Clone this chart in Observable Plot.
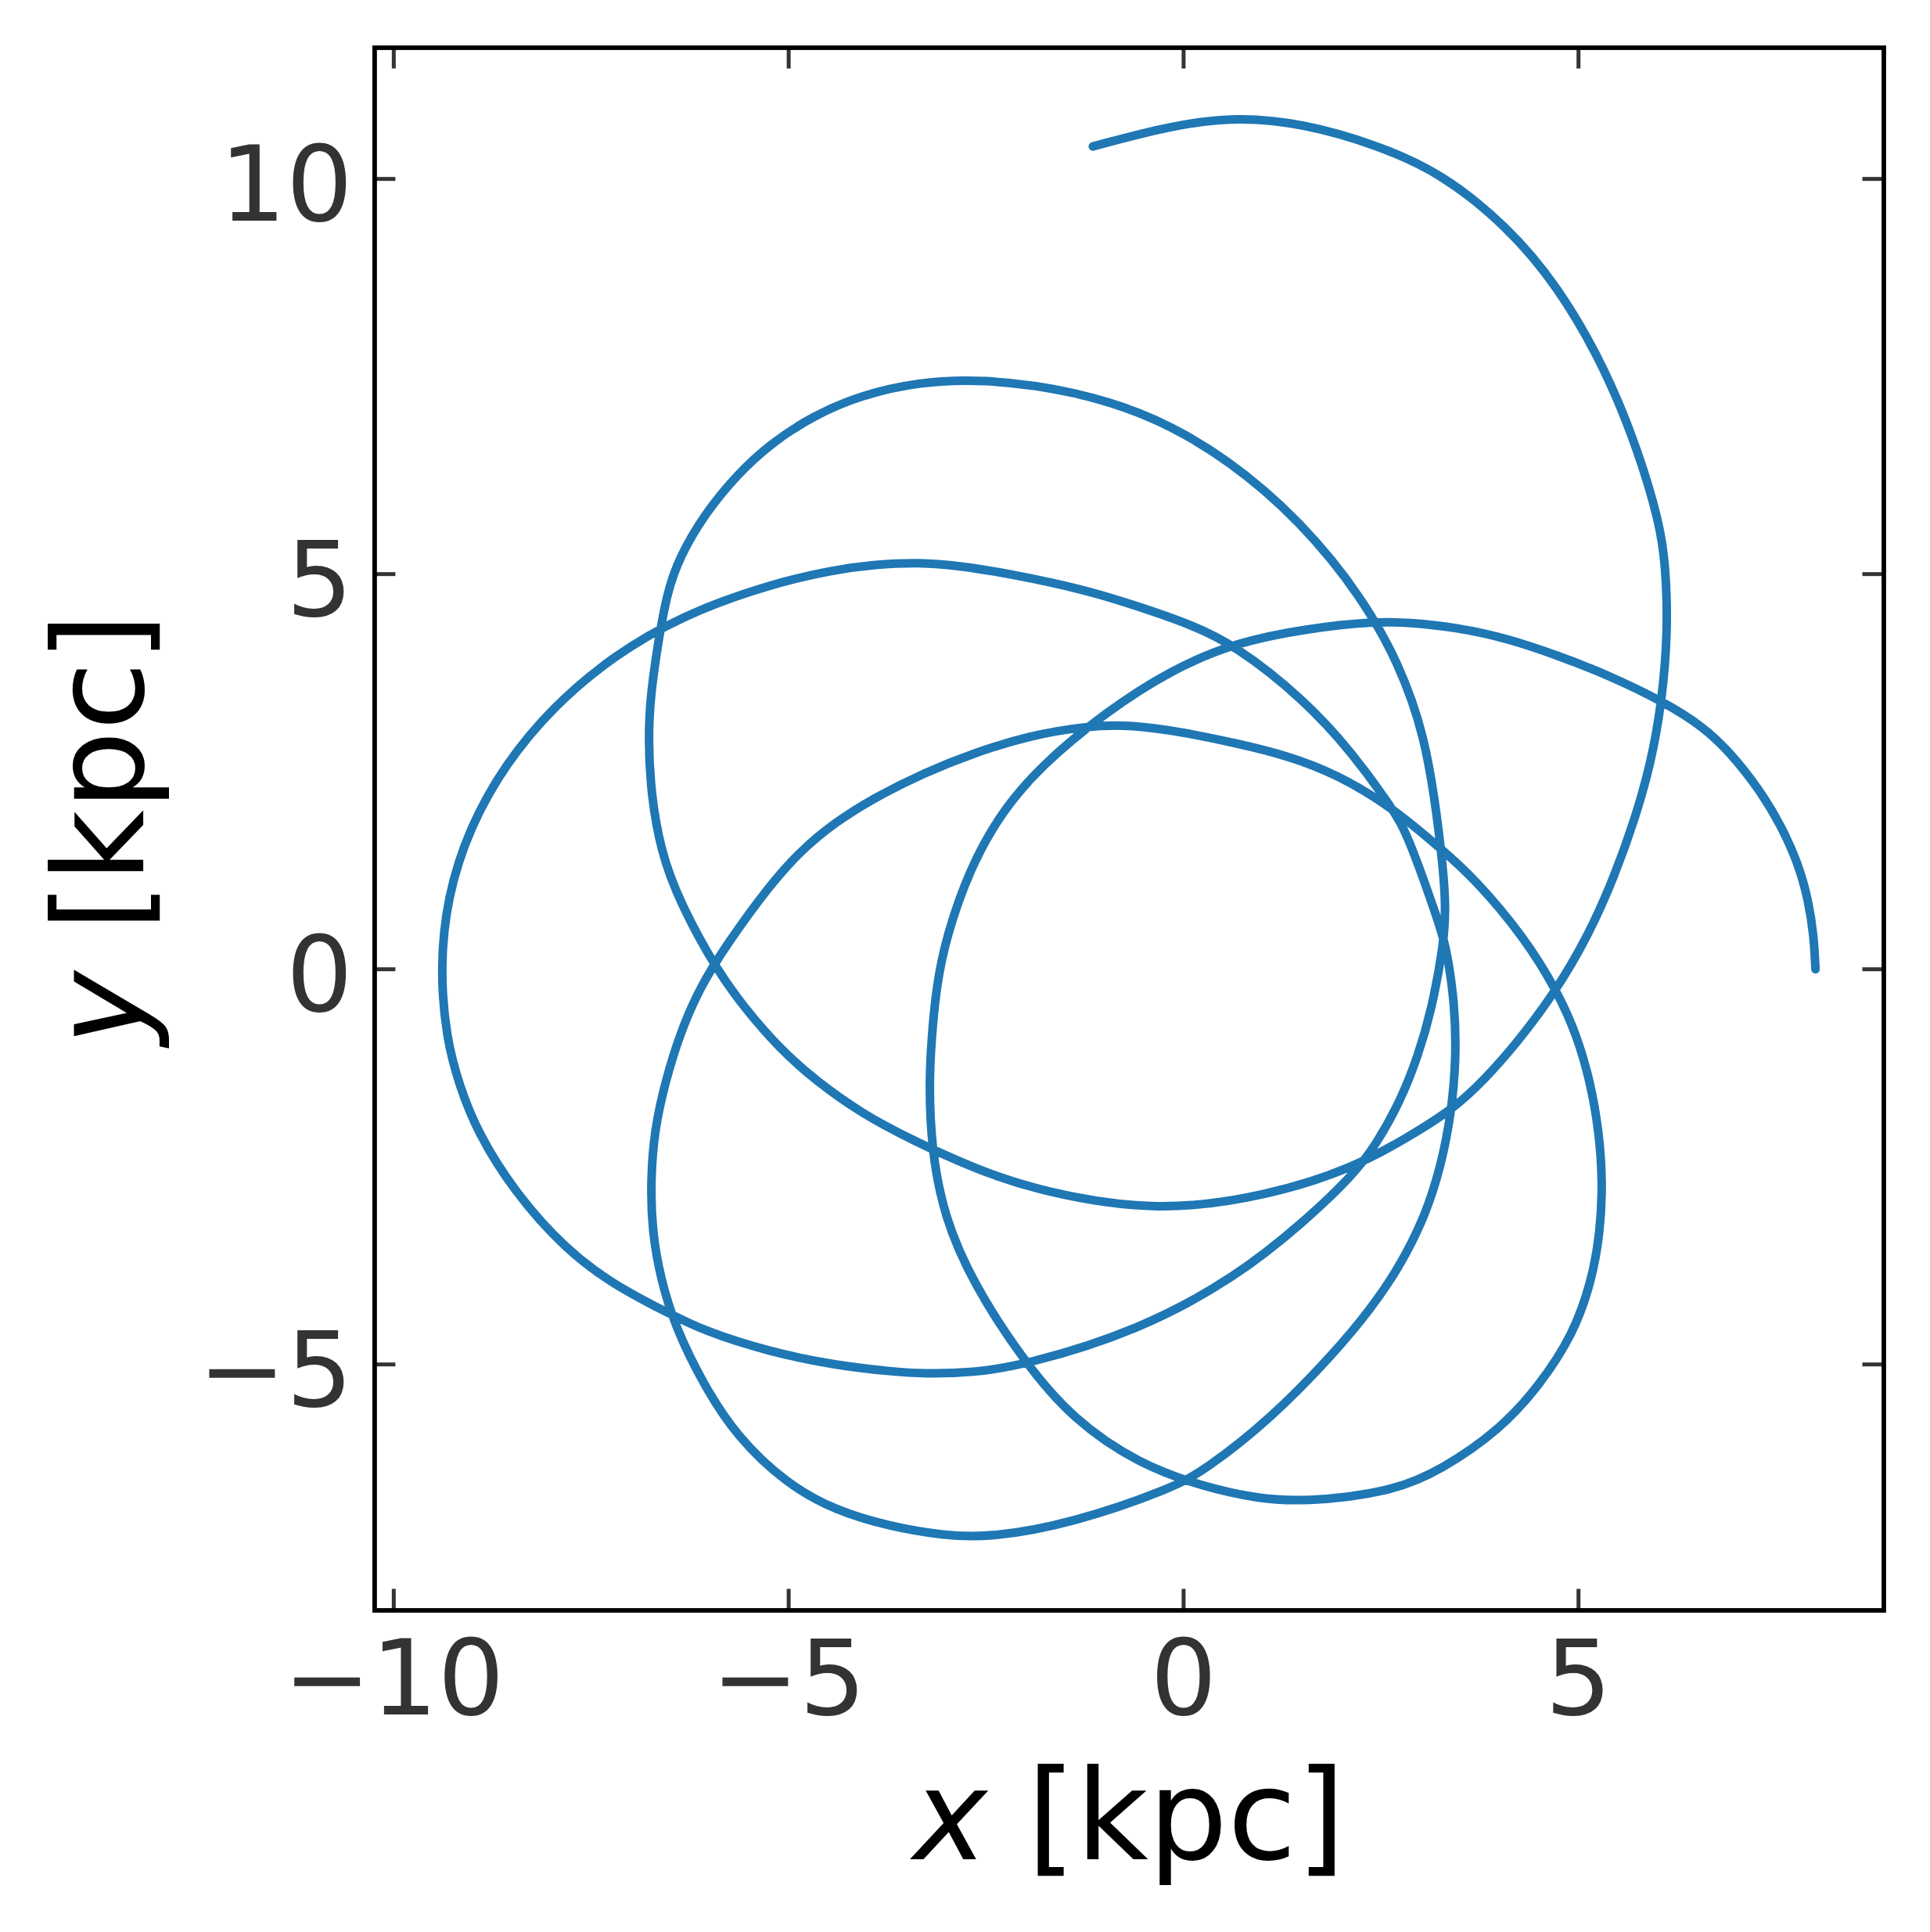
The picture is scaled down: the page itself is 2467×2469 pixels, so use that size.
<!DOCTYPE html>
<html>
<head>
<meta charset="utf-8">
<script src="https://cdn.jsdelivr.net/npm/d3@7"></script>
<script src="https://cdn.jsdelivr.net/npm/@observablehq/plot@0.6"></script>
<style>
  html, body { margin: 0; padding: 0; background: white; }
</style>
</head>
<body>
<div id="chart"></div>
<script>
// Tick values
const xTicks = [-10, -5, 0, 5];
const yTicks = [-5, 0, 5, 10];

// Orbit positions [kpc], in time order
const orbitX = [
  8.000, 7.981, 7.910, 7.778, 7.567, 7.287, 6.913, 6.585, 6.102, 5.353,
  4.745, 4.106, 3.466, 2.843, 2.437, 1.548, 0.675, -0.151, -0.993, -1.820,
  -2.319, -2.709, -3.005, -3.130, -3.192, -3.223, -3.192, -3.036, -2.662, -2.022,
  -1.399, -0.572, 0.270, 0.925, 1.517, 2.624, 3.264, 4.012, 4.511, 4.932,
  5.166, 5.275, 5.306, 5.260, 5.150, 4.979, 4.729, 4.308, 3.685, 3.264,
  2.640, 1.938, 1.315, 0.675, -0.011, -0.650, -1.243, -1.960, -2.662, -3.286,
  -3.909, -4.408, -4.845, -5.250, -5.780, -6.123, -6.373, -6.560, -6.700, -6.747,
  -6.732, -6.622, -6.435, -6.077, -5.656, -5.032, -4.408, -3.707, -3.067,
  -2.443, -1.399, -0.151, 0.270, 1.096, 1.923, 2.359, 2.718, 3.061, 3.264,
  3.388, 3.451, 3.435, 3.326, 3.217, 2.843, 2.656, 2.141, 1.517, 0.644,
  0.067, -0.572, -1.258, -2.241, -2.818, -3.363, -3.909, -4.408, -5.250,
  -6.350, -7.224, -7.979, -8.592, -9.046, -9.322, -9.414, -9.336, -9.164,
  -8.946, -8.478, -7.823, -7.231, -6.576, -6.077, -5.250, -4.408, -3.707, -3.286,
  -2.662, -2.022, -0.572, 0.675, 1.517, 2.141, 2.437, 2.749, 2.967, 3.139,
  3.295, 3.326, 3.248, 3.061, 2.687, 2.390, 1.938, 1.081, -0.151, -1.399,
  -2.584, -3.363, -4.065, -4.689, -5.235, -5.656, -6.077, -6.373, -6.545, -6.700,
  -6.778, -6.763, -6.623, -6.373, -5.905, -5.531, -5.126, -4.658, -4.065, -3.441,
  -2.662, -1.820, -0.323, 1.096, 2.141, 2.843, 3.435, 3.809, 4.199, 4.698,
  5.135, 5.462, 5.712, 5.915, 6.055, 6.133, 6.102, 6.024, 5.774, 5.353,
  4.729, 4.106, 3.264, 2.437, 1.517, 0.675, -0.151, -1.149
];
const orbitY = [
  0.000, 0.413, 0.881, 1.348, 1.816, 2.283, 2.751, 3.063, 3.374, 3.733,
  3.967, 4.185, 4.325, 4.387, 4.403, 4.310, 4.138, 3.795, 3.250, 2.564,
  1.972, 1.270, 0.413, -0.210, -0.881, -1.457, -2.268, -3.125, -3.982, -4.964,
  -5.697, -6.258, -6.554, -6.694, -6.741, -6.616, -6.336, -5.821, -5.260, -4.621,
  -3.951, -3.328, -2.689, -2.050, -1.426, -0.834, -0.273, 0.413, 1.146, 1.520,
  2.050, 2.470, 2.704, 2.860, 3.000, 3.094, 3.078, 2.954, 2.735, 2.486,
  2.174, 1.863, 1.504, 1.052, 0.320, -0.226, -0.803, -1.411, -2.034, -2.657,
  -3.296, -3.920, -4.528, -5.260, -5.915, -6.507, -6.850, -7.053, -7.162,
  -7.193, -7.006, -6.570, -6.336, -5.697, -4.839, -4.310, -3.795, -3.125, -2.470,
  -1.831, -1.146, -0.444, 0.288, 0.631, 1.691, 2.018, 2.735, 3.421, 4.107,
  4.372, 4.590, 4.808, 5.011, 5.104, 5.151, 5.120, 5.058, 4.871,
  4.478, 3.964, 3.329, 2.595, 1.783, 0.918, 0.023, -0.881, -1.488,
  -2.050, -2.813, -3.546, -3.982, -4.325, -4.575, -4.839, -5.011, -5.089, -5.120,
  -5.104, -5.011, -4.575, -3.889, -3.203, -2.611, -2.221, -1.660, -1.099, -0.522,
  0.320, 0.834, 1.660, 2.985, 3.935, 4.465, 5.136, 6.071, 6.928, 7.333,
  7.473, 7.427, 7.271, 7.006, 6.647, 6.258, 5.743, 5.229, 4.777, 3.842,
  3.203, 2.346, 1.488, 0.834, -0.023, -0.522, -0.990, -1.411, -1.831, -2.159,
  -2.517, -2.813, -3.078, -2.860, -2.517, -2.127, -1.753, -1.395, -0.959, -0.304,
  0.444, 1.192, 1.894, 2.595, 3.374, 4.278, 5.136, 5.650, 6.507, 7.583,
  8.658, 9.391, 10.076, 10.435, 10.700, 10.786, 10.678, 10.411
];

const orbit = orbitX.map((x, i) => ({x, y: orbitY[i]}));
const fmt = d => (d < 0 ? "\u2212" + Math.abs(d) : String(d));

const W = 2467, H = 2469;
const mL = 478.4, mR = 59.5, mT = 60.5, mB = 411.5;
const plotW = W - mL - mR, plotH = H - mT - mB;
const tickLen = 27;
const font = "DejaVu Sans";

const chart = Plot.plot({
  width: W,
  height: H,
  marginLeft: mL,
  marginRight: mR,
  marginTop: mT,
  marginBottom: mB,
  x: {domain: [-10.242, 8.866], axis: null},
  y: {domain: [-8.112, 11.660], axis: null},
  style: {fontFamily: font, background: "white", overflow: "visible"},
  marks: [
    Plot.line(orbit, {x: "x", y: "y", stroke: "#1f77b4", strokeWidth: 11, curve: "basis", strokeLinejoin: "round"}),
    Plot.tickX(xTicks, {x: d => d, stroke: "#333333", strokeWidth: 5, insetBottom: plotH - tickLen}),
    Plot.tickX(xTicks, {x: d => d, stroke: "#333333", strokeWidth: 5, insetTop: plotH - tickLen}),
    Plot.tickY(yTicks, {y: d => d, stroke: "#333333", strokeWidth: 5, insetRight: plotW - tickLen}),
    Plot.tickY(yTicks, {y: d => d, stroke: "#333333", strokeWidth: 5, insetLeft: plotW - tickLen}),
    Plot.frame({stroke: "black", strokeWidth: 5.8}),
    Plot.text(xTicks, {x: d => d, text: fmt, frameAnchor: "bottom", textAnchor: "middle", lineAnchor: "bottom", dy: 132.5, fontSize: 134, fontFamily: font, fill: "#333333"}),
    Plot.text(yTicks, {y: d => d, text: fmt, frameAnchor: "left", textAnchor: "end", lineAnchor: "bottom", dx: -28, dy: 53, fontSize: 134, fontFamily: font, fill: "#333333"}),
    Plot.text(["x [kpc]"], {text: d => d, frameAnchor: "bottom", textAnchor: "middle", lineAnchor: "bottom", dy: 317.5, fontSize: 160, fontFamily: font, fill: "black"}),
    Plot.text(["y [kpc]"], {text: d => d, frameAnchor: "left", textAnchor: "middle", rotate: -90, lineAnchor: "bottom", dx: -295.7, fontSize: 160, fontFamily: font, fill: "black"})
  ]
});

// italicise the math variable in the axis labels
const NS = "http://www.w3.org/2000/svg";
for (const t of chart.querySelectorAll("text")) {
  const s = t.textContent;
  if (s === "x [kpc]" || s === "y [kpc]") {
    t.textContent = "";
    const ts = document.createElementNS(NS, "tspan");
    ts.setAttribute("font-style", "italic");
    ts.textContent = s[0];
    t.appendChild(ts);
    t.appendChild(document.createTextNode(" [kpc]"));
  }
}

document.getElementById("chart").appendChild(chart);
</script>
</body>
</html>
